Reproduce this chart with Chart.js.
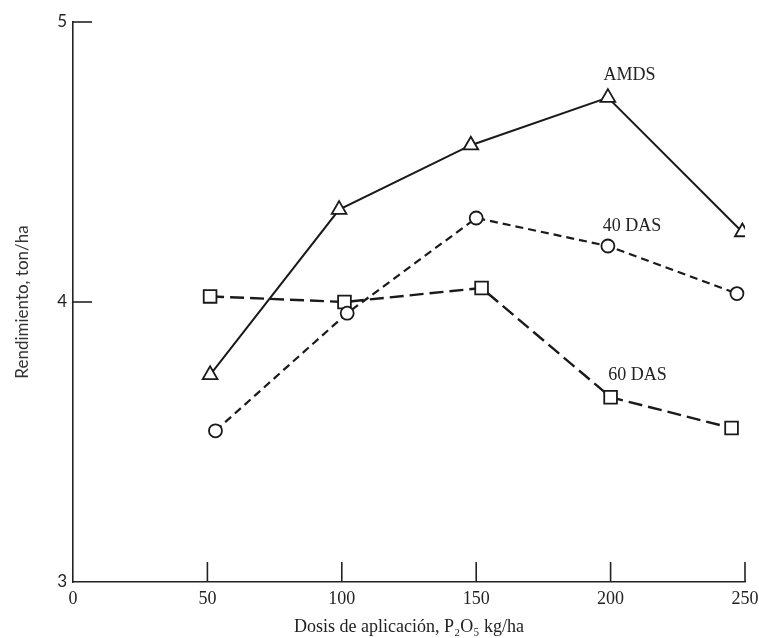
<!DOCTYPE html>
<html>
<head>
<meta charset="utf-8">
<script src="https://cdn.jsdelivr.net/npm/chart.js@4"></script>
<style>
  html, body { margin: 0; padding: 0; background: #fff; }
  #wrap { width: 759px; height: 638px; }
</style>
</head>
<body>
<div id="wrap"><canvas id="c" width="759" height="638"></canvas></div>
<script>
// P2O5 dose (kg/ha) where each point was read
var dosisAmds = [51, 99, 148, 199, 249];
var dosis40 = [53, 102, 150, 199, 247];
var dosis60 = [51, 101, 152, 200, 245];

// yield, ton/ha
var rendAmds = [3.74, 4.33, 4.56, 4.73, 4.25];
var rend40 = [3.54, 3.96, 4.30, 4.20, 4.03];
var rend60 = [4.02, 4.00, 4.05, 3.66, 3.55];

var xTicks = [0, 50, 100, 150, 200, 250];
var yTicks = [3, 4, 5];

// curve names written next to the lines (x, y in data units)
var curveNames = ['AMDS', '40 DAS', '60 DAS'];
var curveNameX = [207, 208, 210];
var curveNameY = [4.81, 4.27, 3.74];

var serie = function(xs, ys){
  var pts = [];
  for (var i = 0; i < xs.length; i++){
    pts.push({x: xs[i], y: ys[i]});
  }
  return pts;
};

// tick marks point into the plot, as in the original figure
var inwardTicks = {
  id: 'inwardTicks',
  afterDraw: function(chart){
    var ctx = chart.ctx;
    var xs = chart.scales.x;
    var ys = chart.scales.y;
    ctx.save();
    ctx.strokeStyle = '#222';
    ctx.lineWidth = 1.6;
    for (var i = 1; i < xTicks.length; i++){
      var px = xs.getPixelForValue(xTicks[i]);
      ctx.beginPath();
      ctx.moveTo(px, ys.bottom);
      ctx.lineTo(px, ys.bottom - 20);
      ctx.stroke();
    }
    for (var j = 1; j < yTicks.length; j++){
      var py = ys.getPixelForValue(yTicks[j]);
      ctx.beginPath();
      ctx.moveTo(xs.left, py);
      ctx.lineTo(xs.left + 19, py);
      ctx.stroke();
    }
    ctx.fillStyle = '#222';
    ctx.font = '18px "Liberation Serif", serif';
    ctx.textAlign = 'center';
    ctx.textBaseline = 'middle';
    for (var k = 0; k < curveNames.length; k++){
      ctx.fillText(curveNames[k], xs.getPixelForValue(curveNameX[k]), ys.getPixelForValue(curveNameY[k]));
    }
    ctx.restore();
  }
};

var ctx = document.getElementById('c').getContext('2d');
var chart = new Chart(ctx, {
  type: 'scatter',
  data: {
    datasets: [
      {
        label: 'AMDS',
        data: serie(dosisAmds, rendAmds),
        showLine: true,
        borderColor: '#1a1a1a',
        borderWidth: 2,
        pointStyle: 'triangle',
        pointRadius: 8.5,
        pointBackgroundColor: '#fff',
        pointBorderColor: '#1a1a1a',
        pointBorderWidth: 1.8
      },
      {
        label: '40 DAS',
        data: serie(dosis40, rend40),
        showLine: true,
        borderColor: '#1a1a1a',
        borderWidth: 2.2,
        borderDash: [8, 5],
        pointStyle: 'circle',
        pointRadius: 6.5,
        pointBackgroundColor: '#fff',
        pointBorderColor: '#1a1a1a',
        pointBorderWidth: 1.8
      },
      {
        label: '60 DAS',
        data: serie(dosis60, rend60),
        showLine: true,
        borderColor: '#1a1a1a',
        borderWidth: 2.4,
        borderDash: [14, 6],
        pointStyle: 'rect',
        pointRadius: 9,
        pointBackgroundColor: '#fff',
        pointBorderColor: '#1a1a1a',
        pointBorderWidth: 1.8
      }
    ]
  },
  options: {
    responsive: false,
    animation: false,
    layout: {padding: {top: 22, right: 14, left: 0, bottom: 0}},
    plugins: {
      legend: {display: false},
      tooltip: {enabled: false}
    },
    scales: {
      x: {
        type: 'linear',
        min: 0,
        max: 250,
        afterBuildTicks: function(scale){
          scale.ticks = xTicks.map(function(v){ return {value: v}; });
        },
        afterFit: function(scale){
          scale.height = 56;
          scale.paddingRight = 0;
        },
        grid: {display: true, drawOnChartArea: false, drawTicks: false},
        border: {display: true, color: '#222', width: 1.6},
        ticks: {
          color: '#222',
          padding: 6,
          maxRotation: 0,
          font: {family: '"Liberation Serif", serif', size: 18}
        },
        title: {
          display: true,
          text: 'Dosis de aplicación, P₂O₅ kg/ha',
          color: '#222',
          padding: {top: 2, bottom: 0},
          font: {family: '"Liberation Serif", serif', size: 18}
        }
      },
      y: {
        type: 'linear',
        min: 3,
        max: 5,
        afterBuildTicks: function(scale){
          scale.ticks = yTicks.map(function(v){ return {value: v}; });
        },
        afterFit: function(scale){ scale.width = 73; },
        grid: {display: true, drawOnChartArea: false, drawTicks: false},
        border: {display: true, color: '#222', width: 1.6},
        ticks: {
          color: '#222',
          padding: 6,
          font: {family: 'Lato, "Open Sans", sans-serif', size: 17}
        },
        title: {
          display: true,
          text: 'Rendimiento, ton/ha',
          color: '#333',
          padding: {top: 12, bottom: 0},
          font: {family: 'Lato, "Open Sans", sans-serif', size: 17}
        }
      }
    }
  },
  plugins: [inwardTicks]
});
</script>
</body>
</html>
